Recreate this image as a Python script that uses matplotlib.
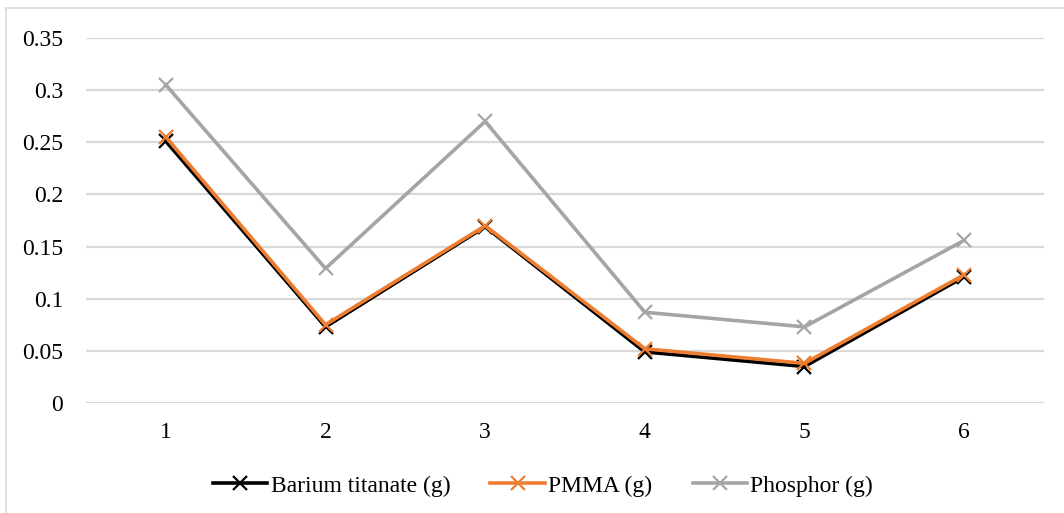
import matplotlib
matplotlib.use("Agg")
import matplotlib.pyplot as plt
from matplotlib.lines import Line2D

categories = [1, 2, 3, 4, 5, 6]
barium_titanate = [0.251, 0.073, 0.169, 0.049, 0.035, 0.121]
pmma = [0.255, 0.075, 0.170, 0.052, 0.038, 0.123]
phosphor = [0.305, 0.129, 0.270, 0.087, 0.073, 0.156]
y_ticks = [0, 0.05, 0.1, 0.15, 0.2, 0.25, 0.3, 0.35]
y_labels = ["0", "0.05", "0.1", "0.15", "0.2", "0.25", "0.3", "0.35"]

plt.rcParams["font.family"] = ["Liberation Serif", "DejaVu Serif"]

W, H = 1064, 513
fig = plt.figure(figsize=(W / 100, H / 100), dpi=100)
ax = fig.add_axes([86 / W, 1 - 403 / H, (1044 - 86) / W, (403 - 38) / H])

series = [
    ("Barium titanate (g)", barium_titanate, "#000000"),
    ("PMMA (g)", pmma, "#ED7D31"),
    ("Phosphor (g)", phosphor, "#A5A5A5"),
]
for label, vals, color in series:
    ax.plot(categories, vals, color=color, lw=2.6, marker="x", ms=10,
            mew=1.6, label=label, zorder=3)

ax.set_xlim(0.5, 6.5)
ax.set_ylim(0, 0.35)
ax.set_yticks(y_ticks)
ax.set_yticklabels(y_labels)
ax.set_xticks(categories)
ax.set_xticklabels([str(c) for c in categories])
ax.grid(axis="y", color="#D9D9D9", lw=1.6)
ax.set_axisbelow(True)
for s in ax.spines.values():
    s.set_visible(False)
ax.tick_params(axis="both", length=0, labelsize=17, colors="#000000")
ax.tick_params(axis="y", pad=16.5)
ax.tick_params(axis="x", pad=14)

leg = ax.legend(loc="center", bbox_to_anchor=(543 / W, 1 - 486 / H),
                bbox_transform=fig.transFigure, ncol=3, frameon=False,
                fontsize=17, handlelength=2.3, handletextpad=0.15,
                columnspacing=1.7)

# Chart frame (top and left edges)
fig.add_artist(Line2D([6 / W, 1.0], [1 - 8 / H, 1 - 8 / H],
                      transform=fig.transFigure, color="#D9D9D9", lw=1.2))
fig.add_artist(Line2D([6 / W, 6 / W], [0, 1 - 8 / H],
                      transform=fig.transFigure, color="#D9D9D9", lw=1.2))

fig.savefig("out.png", dpi=100)
